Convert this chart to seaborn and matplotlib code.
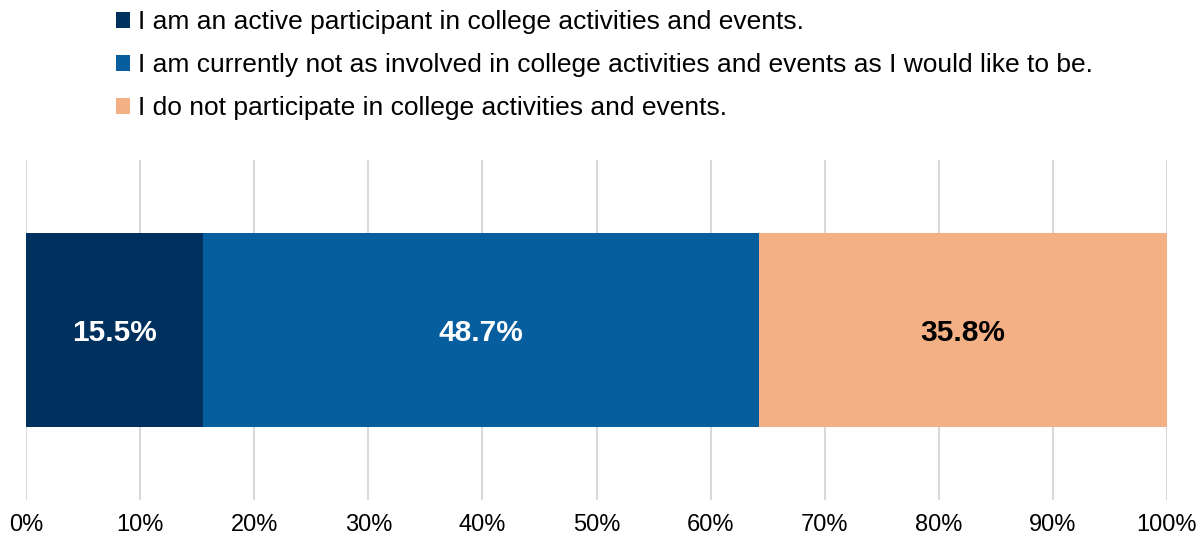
import matplotlib
matplotlib.use("Agg")
import matplotlib.pyplot as plt
from matplotlib.patches import Patch
import seaborn as sns
import pandas as pd
import numpy as np

# Survey response shares (percent)
responses = [
    "I am an active participant in college activities and events.",
    "I am currently not as involved in college activities and events as I would like to be.",
    "I do not participate in college activities and events.",
]
shares = [15.5, 48.7, 35.8]
colors = ["#00305E", "#065E9E", "#F2B084"]
label_colors = ["white", "white", "black"]
tick_values = list(range(0, 101, 10))
tick_labels = [f"{v}%" for v in tick_values]

sns.set_theme(style="white")
plt.rcParams["font.family"] = ["Liberation Sans", "DejaVu Sans"]
plt.rcParams["text.color"] = "black"
plt.rcParams["xtick.color"] = "black"

fig = plt.figure(figsize=(12.03, 5.41), dpi=100)
ax = fig.add_axes([26 / 1203, 41 / 541, (1167 - 26) / 1203, 340 / 541])

cum = np.cumsum(shares)
starts = cum - np.array(shares)

# Stacked bar: draw cumulative totals from largest to smallest
for i in reversed(range(len(shares))):
    df = pd.DataFrame({"group": ["all"], "value": [cum[i]]})
    sns.barplot(data=df, x="value", y="group", orient="h", color=colors[i],
                saturation=1, width=0.568, linewidth=0, ax=ax, zorder=2)

for s, v, c in zip(starts, shares, label_colors):
    ax.text(s + v / 2, 0.01, f"{v:.1f}%", ha="center", va="center",
            color=c, fontsize=21.5, fontweight="bold", zorder=3)

ax.set_xlim(0, 100)
ax.set_ylim(0.5, -0.5)
ax.set_xticks(tick_values)
ax.set_xticklabels(tick_labels, fontsize=17, color="black")
ax.set_yticks([])
ax.set_xlabel("")
ax.set_ylabel("")
ax.tick_params(axis="x", length=0, pad=10)
ax.grid(axis="x", color="#D9D9D9", linewidth=1.5, zorder=0)
ax.set_axisbelow(True)
for sp in ax.spines.values():
    sp.set_visible(False)

handles = [Patch(facecolor=c, edgecolor="none") for c in colors]
leg = fig.legend(handles, responses, loc="upper left",
                 bbox_to_anchor=(98 / 1203, 1.0 + 8 / 541),
                 frameon=False, fontsize=19, handlelength=0.53, handleheight=0.53,
                 handletextpad=0.27, labelspacing=0.72, borderaxespad=0.3)
for t in leg.get_texts():
    t.set_color("black")

fig.savefig("out.png", dpi=100)
